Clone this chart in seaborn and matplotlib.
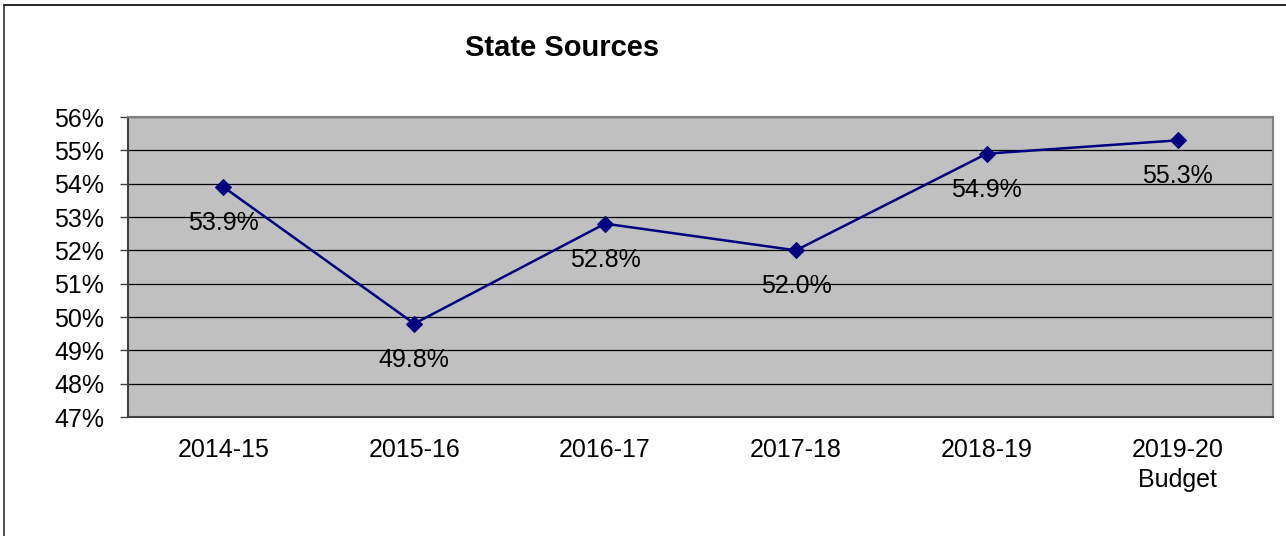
import matplotlib
matplotlib.use('Agg')
import pandas as pd
import seaborn as sns
import matplotlib.pyplot as plt
from matplotlib.lines import Line2D
from matplotlib.ticker import FuncFormatter

# values
years = ['2014-15', '2015-16', '2016-17', '2017-18', '2018-19', '2019-20\nBudget']
state_share = [53.9, 49.8, 52.8, 52.0, 54.9, 55.3]
y_ticks = list(range(47, 57))

sns.set_style('white')
plt.rcParams['font.family'] = ['Liberation Sans', 'DejaVu Sans']
plt.rcParams['text.color'] = 'black'
plt.rcParams['xtick.color'] = 'black'
plt.rcParams['ytick.color'] = 'black'

plot_data = pd.DataFrame({'pos': range(len(years)), 'share': state_share})

fig = plt.figure(figsize=(12.86, 5.36), dpi=100)
ax = fig.add_axes([128 / 1286, 1 - 417 / 536, 1145 / 1286, 300 / 536])
ax.set_facecolor('#C0C0C0')

sns.lineplot(data=plot_data, x='pos', y='share', ax=ax, color='#000080',
             linewidth=1.8, marker='D', markersize=8, markeredgecolor='#000080',
             zorder=3)

# data labels below each point
for xx, yy in zip(plot_data['pos'], plot_data['share']):
    ax.annotate(f'{yy:.1f}%', (xx, yy), xytext=(0, -26), textcoords='offset points',
                ha='center', va='center', fontsize=18, color='black')

ax.set_xlim(-0.5, len(years) - 0.5)
ax.set_ylim(47, 56)
ax.set_yticks(y_ticks)
ax.yaxis.set_major_formatter(FuncFormatter(lambda v, p: f'{v:.0f}%'))
ax.grid(axis='y', color='black', linewidth=0.9)
ax.set_axisbelow(True)

ax.set_xticks(range(len(years)))
ax.set_xticklabels(years, fontsize=18, linespacing=1.3)
ax.set_xticks([i - 0.5 for i in range(len(years) + 1)], minor=True)
ax.tick_params(axis='x', which='major', length=0, pad=15)
ax.tick_params(axis='x', which='minor', length=5, width=1, color='#404040', direction='out')
ax.tick_params(axis='y', labelsize=18, length=6, width=1, color='#404040', direction='out',
               left=True, pad=11)
for lbl in ax.get_xticklabels():
    lbl.set_verticalalignment('top')

for s in ax.spines.values():
    s.set_color('#808080')
    s.set_linewidth(1.5)
ax.spines['left'].set_color('#404040')
ax.spines['bottom'].set_color('#404040')

ax.set_xlabel('')
ax.set_ylabel('')

fig.text(562 / 1286, 1 - 48 / 536, 'State Sources', ha='center', va='center',
         fontsize=21, fontweight='bold')

# outer chart border (top and left edges visible in the reference)
fig.add_artist(Line2D([4 / 1286, 1], [1 - 5 / 536, 1 - 5 / 536], transform=fig.transFigure,
                      color='black', linewidth=1.2))
fig.add_artist(Line2D([4 / 1286, 4 / 1286], [0, 1 - 5 / 536], transform=fig.transFigure,
                      color='#303030', linewidth=1.2))

plt.savefig('out.png', dpi=100)
plt.close()
